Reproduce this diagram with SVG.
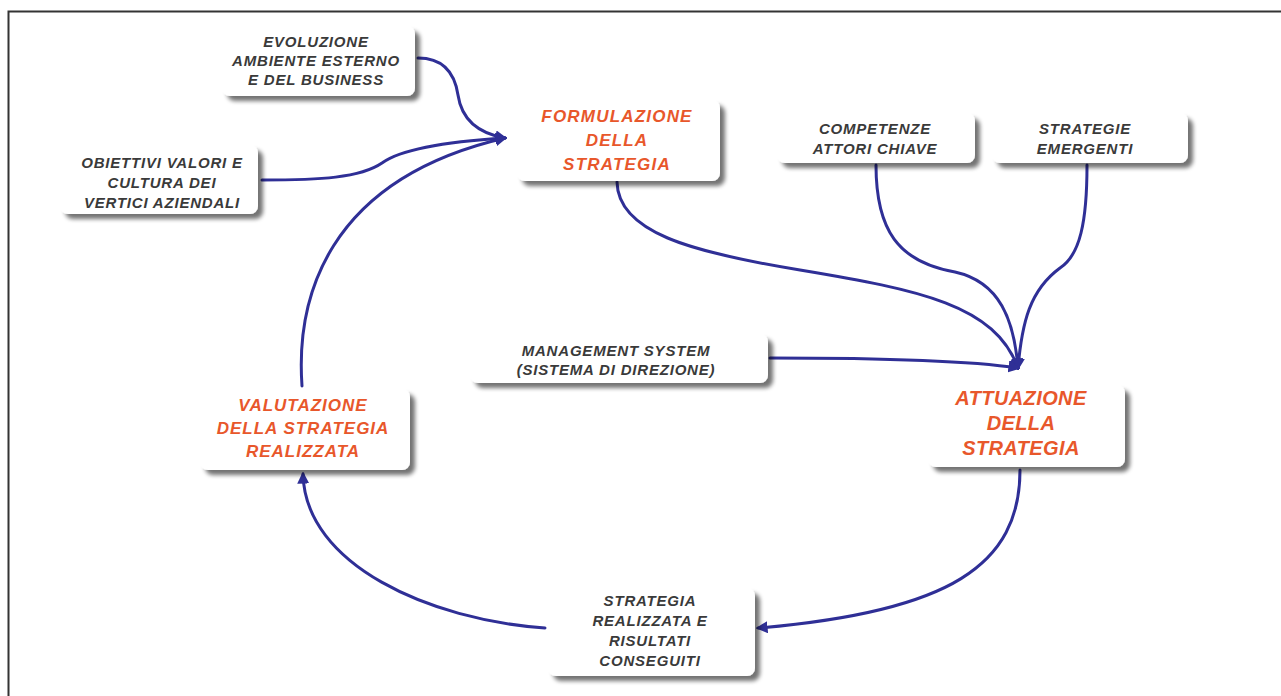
<svg xmlns="http://www.w3.org/2000/svg" width="1281" height="696" viewBox="0 0 1281 696">
<defs>
<filter id="sh" x="-10%" y="-20%" width="130%" height="150%">
<feGaussianBlur in="SourceAlpha" stdDeviation="2"/>
<feOffset dx="5" dy="5" result="b"/>
<feComponentTransfer><feFuncA type="linear" slope="0.55"/></feComponentTransfer>
<feMerge><feMergeNode/><feMergeNode in="SourceGraphic"/></feMerge>
</filter>
<marker id="ah" viewBox="0 0 10 10" refX="8" refY="5" markerWidth="4" markerHeight="4" orient="auto" markerUnits="strokeWidth">
<path d="M0,0 L10,5 L0,10 z" fill="#2f2f96"/>
</marker>
<style>
.box{fill:#ffffff;filter:url(#sh)}
.t{font-family:"Liberation Sans",Arial,sans-serif;font-weight:bold;font-style:italic;text-anchor:middle;fill:#3a3a3a;font-size:15px;letter-spacing:0.8px}
.o{fill:#e8572b}
.c{fill:none;stroke:#2f2f96;stroke-width:3;stroke-linecap:round}
</style>
</defs>
<rect width="1281" height="696" fill="#ffffff"/>
<path d="M8.5,700 V11.5 H1285" fill="none" stroke="#333" stroke-width="2"/>

<g id="connectors">
<path class="c" d="M418,58 C445,58 455,75 458,95 C462,122 482,134 505,138" marker-end="url(#ah)"/>
<path class="c" d="M262,180 C320,180 360,178 382,163 C400,150 440,142 505,138" marker-end="url(#ah)"/>
<path class="c" d="M302,386 C296,300 325,180 505,138" marker-end="url(#ah)"/>
<path class="c" d="M617,182 C618,232 690,252 800,270 C920,290 995,305 1018,368" marker-end="url(#ah)"/>
<path class="c" d="M876,165 C876,230 898,262 955,272 C1000,282 1014,320 1018,368" marker-end="url(#ah)"/>
<path class="c" d="M1087,165 C1087,222 1080,255 1060,268 C1030,290 1022,322 1018,368" marker-end="url(#ah)"/>
<path class="c" d="M770,358 C850,358 965,360 1018,368" marker-end="url(#ah)"/>
<path class="c" d="M1020,470 C1020,565 950,612 758,628" marker-end="url(#ah)"/>
<path class="c" d="M545,628 C430,620 305,565 303,474" marker-end="url(#ah)"/>
</g>

<g id="evoluzione">
<rect class="box" x="222" y="26" width="193" height="70" rx="8"/>
<text class="t" x="316" y="47">EVOLUZIONE</text>
<text class="t" x="316" y="66">AMBIENTE ESTERNO</text>
<text class="t" x="316" y="85">E DEL BUSINESS</text>
</g>

<g id="obiettivi">
<rect class="box" x="60" y="145" width="198" height="69" rx="8"/>
<text class="t" x="162" y="168">OBIETTIVI VALORI E</text>
<text class="t" x="162" y="188">CULTURA DEI</text>
<text class="t" x="162" y="208">VERTICI AZIENDALI</text>
</g>

<g id="formulazione">
<rect class="box" x="517" y="100" width="203" height="81" rx="8"/>
<text class="t o" x="617" y="122" style="font-size:17px;letter-spacing:1.2px">FORMULAZIONE</text>
<text class="t o" x="617" y="146" style="font-size:17px;letter-spacing:1.2px">DELLA</text>
<text class="t o" x="617" y="170" style="font-size:17px;letter-spacing:1.2px">STRATEGIA</text>
</g>

<g id="competenze">
<rect class="box" x="777" y="113" width="198" height="50" rx="8"/>
<text class="t" x="875" y="134">COMPETENZE</text>
<text class="t" x="875" y="154">ATTORI CHIAVE</text>
</g>

<g id="emergenti">
<rect class="box" x="992" y="113" width="196" height="50" rx="8"/>
<text class="t" x="1085" y="134">STRATEGIE</text>
<text class="t" x="1085" y="154">EMERGENTI</text>
</g>

<g id="management">
<rect class="box" x="470" y="334" width="298" height="49" rx="8"/>
<text class="t" x="616" y="356">MANAGEMENT SYSTEM</text>
<text class="t" x="616" y="375">(SISTEMA DI DIREZIONE)</text>
</g>

<g id="attuazione">
<rect class="box" x="928" y="385" width="197" height="82" rx="8"/>
<text class="t o" x="1021" y="405" style="font-size:20px;letter-spacing:0.4px">ATTUAZIONE</text>
<text class="t o" x="1021" y="430" style="font-size:20px;letter-spacing:0.4px">DELLA</text>
<text class="t o" x="1021" y="455" style="font-size:20px;letter-spacing:0.4px">STRATEGIA</text>
</g>

<g id="valutazione">
<rect class="box" x="200" y="389" width="210" height="81" rx="8"/>
<text class="t o" x="303" y="411" style="font-size:17px;letter-spacing:1px">VALUTAZIONE</text>
<text class="t o" x="303" y="434" style="font-size:17px;letter-spacing:1px">DELLA STRATEGIA</text>
<text class="t o" x="303" y="457" style="font-size:17px;letter-spacing:1px">REALIZZATA</text>
</g>

<g id="realizzata">
<rect class="box" x="548" y="588" width="207" height="88" rx="8"/>
<text class="t" x="650" y="606">STRATEGIA</text>
<text class="t" x="650" y="626">REALIZZATA E</text>
<text class="t" x="650" y="646">RISULTATI</text>
<text class="t" x="650" y="666">CONSEGUITI</text>
</g>
</svg>
